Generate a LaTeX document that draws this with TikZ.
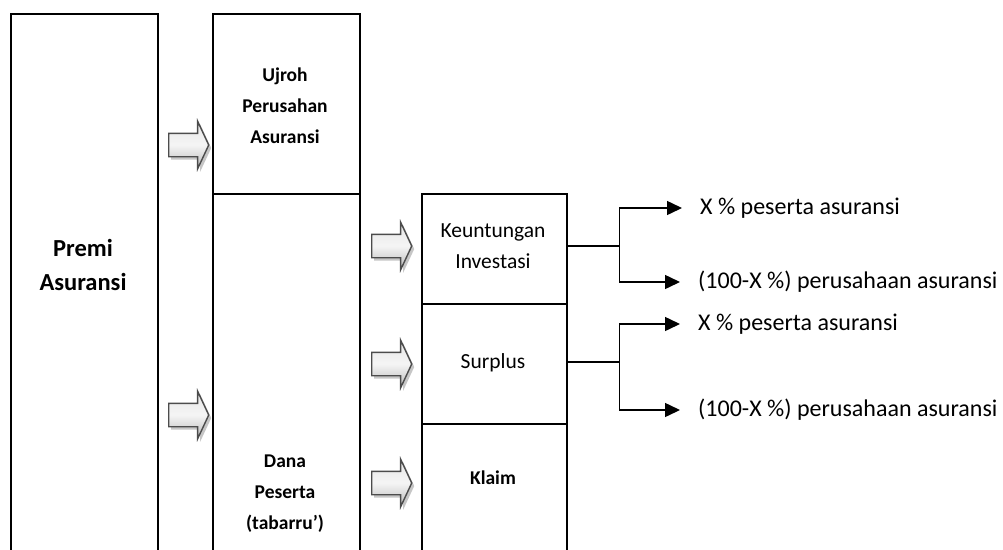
\documentclass[tikz,border=0pt]{standalone}
\usepackage{fontspec}
\setmainfont{Carlito}
\usetikzlibrary{arrows.meta}
\usetikzlibrary{shapes.arrows,shadows}

\tikzset{
  box/.style={draw, line width=1.6pt, inner sep=0pt, anchor=north west},
  bigarrow/.style={single arrow, draw=gray!60!black, line width=1.4pt,
    top color=gray!20, bottom color=gray!55, middle color=gray!8,
    minimum height=40pt, minimum width=46pt, inner xsep=0pt, inner ysep=11pt,
    single arrow head extend=12pt, single arrow tip angle=130,
    drop shadow={shadow xshift=2.5pt, shadow yshift=-3pt, fill=gray!45, opacity=1}},
  tree/.style={line width=1.5pt},
  tip/.style={-{Triangle[length=15pt,width=14pt]}, shorten >=18pt},
  outtext/.style={anchor=west, inner sep=0pt, font=\fontsize{24}{28}\selectfont},
  boxtext/.style={align=center, font=\fontsize{21.5}{31}\selectfont},
  boldtext/.style={align=center, font=\bfseries\fontsize{19.5}{31}\selectfont}
}

\begin{document}
\begin{tikzpicture}[x=1pt,y=-1pt]
 \useasboundingbox (0,0) rectangle (1003,549);
 \clip (0,0) rectangle (1003,549);

 % columns
 \node[box, minimum width=147pt, minimum height=600pt] (premibox) at (10,13) {};
 \node[box, minimum width=147pt, minimum height=180pt] (ujrohbox) at (212,13) {};
 \node[box, minimum width=147pt, minimum height=420pt] (danabox) at (212,193) {};
 \node[box, minimum width=145pt, minimum height=110pt] (keun) at (421,193) {};
 \node[box, minimum width=145pt, minimum height=120pt] (surplus) at (421,303) {};
 \node[box, minimum width=145pt, minimum height=200pt] (klaimbox) at (421,423) {};

 % texts
 \node[align=center, font=\bfseries\fontsize{24.5}{34}\selectfont] (premi) at (83,265) {Premi\\Asuransi};
 \node[boldtext] (ujroh) at (285,106) {Ujroh\\Perusahan\\Asuransi};
 \node[boldtext] (dana) at (285,494) {Dana\\Peserta\\(tabarru’)};
 \node[boxtext] (keuntext) at (493,246) {Keuntungan\\Investasi};
 \node[boxtext] (surptext) at (493,363) {Surplus};
 \node[boldtext] (klaim) at (493,478) {Klaim};

 % block arrows
 \node[bigarrow] (a1) at (186,145) {};
 \node[bigarrow] (a2) at (186,415) {};
 \node[bigarrow] (a3) at (389,246) {};
 \node[bigarrow] (a4) at (389,364) {};
 \node[bigarrow] (a5) at (389,483) {};

 % shares
 \node[outtext] (kx) at (700,208) {X \% peserta asuransi};
 \node[outtext] (ky) at (698,282) {(100-X \%) perusahaan asuransi};
 \node[outtext] (sx) at (698,324) {X \% peserta asuransi};
 \node[outtext] (sy) at (698,410) {(100-X \%) perusahaan asuransi};

 \draw[tree] (keun.east |- 0,246) -- ++(52,0) coordinate (kfork);
 \draw[tree, tip] (kfork) |- (kx.west);
 \draw[tree, tip] (kfork) |- (ky.west);
 \draw[tree] (surplus.east |- 0,362) -- ++(52,0) coordinate (sfork);
 \draw[tree, tip] (sfork) |- (sx.west);
 \draw[tree, tip] (sfork) |- (sy.west);

\end{tikzpicture}
\end{document}
